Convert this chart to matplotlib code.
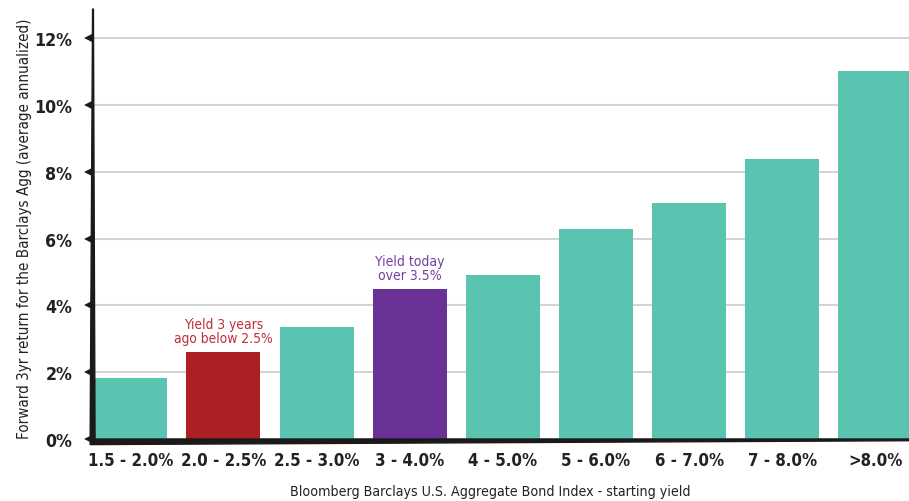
import matplotlib
matplotlib.use("Agg")
import matplotlib.pyplot as plt
import matplotlib.font_manager as fm
from matplotlib.patches import Polygon

categories = ["1.5 - 2.0%", "2.0 - 2.5%", "2.5 - 3.0%", "3 - 4.0%", "4 - 5.0%",
              "5 - 6.0%", "6 - 7.0%", "7 - 8.0%", ">8.0%"]
values = [1.83, 2.60, 3.35, 4.49, 4.91, 6.29, 7.07, 8.38, 11.02]
bar_colors = ["#5bc4b1", "#ae1f24", "#5bc4b1", "#6a3196", "#5bc4b1",
              "#5bc4b1", "#5bc4b1", "#5bc4b1", "#5bc4b1"]
yticks = [0, 2, 4, 6, 8, 10, 12]
ytick_labels = ["0%", "2%", "4%", "6%", "8%", "10%", "12%"]
notes = [(1, "Yield 3 years\nago below 2.5%", "#bd2f3a"),
         (3, "Yield today\nover 3.5%", "#7340a3")]

# choose a condensed font if available
entries = fm.fontManager.ttflist
names = {f.name for f in entries}
stretch = 'normal'
if 'Liberation Sans Narrow' in names:
    fam = ['Liberation Sans Narrow', 'DejaVu Sans']
else:
    fam = ['DejaVu Sans']
    if any(f.name == 'DejaVu Sans' and str(f.stretch) in ('condensed', 'semi-condensed', '600', '700')
           for f in entries):
        stretch = 'condensed'
plt.rcParams['font.family'] = fam
plt.rcParams['font.stretch'] = stretch

fig = plt.figure(figsize=(9.09, 5.02), dpi=100)
ax = fig.add_axes([93/909, 1-440/502, 1-93/909, (440-10)/502])

x = list(range(len(categories)))
ax.bar(x, values, width=0.795, color=bar_colors, zorder=2)
ax.set_xlim(-0.40, 8.36)
ax.set_ylim(0, 12.87)

ax.set_yticks(yticks)
ax.set_yticklabels(ytick_labels, fontsize=15, fontweight='bold', color='#222222')
ax.set_xticks(x)
ax.set_xticklabels(categories, fontsize=15, fontweight='bold', color='#222222')
ax.tick_params(axis='y', length=0, pad=15)
ax.tick_params(axis='x', length=0, pad=9)
ax.grid(axis='y', color='#d4d4d4', linewidth=1.5, zorder=1)
ax.set_axisbelow(True)
for s in ax.spines.values():
    s.set_visible(False)

left = Polygon([(-0.0035, 0), (0.0025, 0), (0.0005, 1.0), (-0.0005, 1.0)],
               closed=True, transform=ax.transAxes, color='#1a1a1a',
               clip_on=False, zorder=5)
ax.add_patch(left)
bottom = Polygon([(-0.0035, -0.013), (1.0, -0.004), (1.0, 0.0), (-0.0035, 0.0)],
                 closed=True, transform=ax.transAxes, color='#1a1a1a',
                 clip_on=False, zorder=5)
ax.add_patch(bottom)
for t in yticks:
    ax.plot([-0.005], [t], marker='<', markersize=7, color='#1a1a1a',
            transform=ax.get_yaxis_transform(), clip_on=False, zorder=6,
            markeredgewidth=0)

note_texts = []
for xi, txt, col in notes:
    note_texts.append(ax.text(xi, values[xi] + 0.2, txt, ha='center', va='bottom',
                              fontsize=12, color=col, linespacing=1.0))

ylab = ax.set_ylabel("Forward 3yr return for the Barclays Agg (average annualized)",
                     fontsize=12, color='#222222')
xlab = ax.set_xlabel("Bloomberg Barclays U.S. Aggregate Bond Index - starting yield",
                     fontsize=12, color='#222222')

# fit font sizes to the reference text widths (pixels)
fig.canvas.draw()
r = fig.canvas.get_renderer()
def fit(t, target, horiz=True):
    bb = t.get_window_extent(r)
    w = bb.width if horiz else bb.height
    t.set_fontsize(t.get_fontsize() * target / w)

xt = ax.get_xticklabels()
scale_x = 85 / xt[0].get_window_extent(r).width
for t in xt:
    t.set_fontsize(t.get_fontsize() * scale_x)
yt = ax.get_yticklabels()
scale_y = 38 / yt[-1].get_window_extent(r).width
for t in yt:
    t.set_fontsize(t.get_fontsize() * scale_y)
fit(ylab, 420, horiz=False)
fit(xlab, 400)
fit(note_texts[0], 99)
fit(note_texts[1], 69)

axw = 1 - 93/909
axh = (440-10)/502
ax.yaxis.set_label_coords(-(93 - 25) / 909 / axw, (440 - 229) / 502 / axh)
ax.yaxis.label.set_va('center')
ax.xaxis.set_label_coords((490 - 93) / 909 / axw, -(492 - 440) / 502 / axh)
ax.xaxis.label.set_va('center')

fig.savefig("out.png", dpi=100)
